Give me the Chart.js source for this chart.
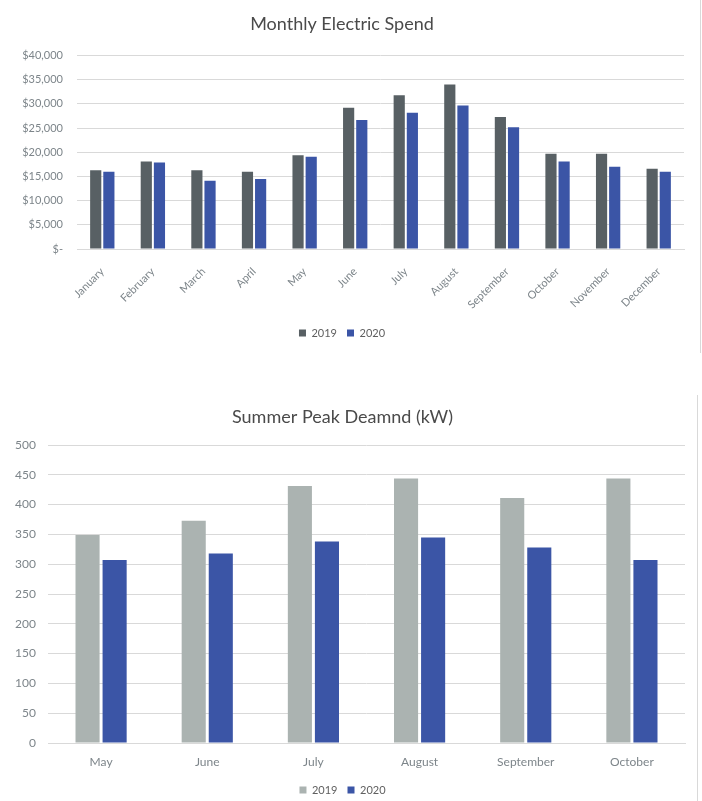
<!DOCTYPE html>
<html>
<head>
<meta charset="utf-8">
<title>Electric Spend and Peak Demand</title>
<script src="https://cdn.jsdelivr.net/npm/chart.js@4.4.1/dist/chart.umd.min.js"></script>
<style>
  html, body { margin: 0; padding: 0; background: #fff; overflow: hidden; }
  body { width: 702px; height: 801px; position: relative; }
  .box { position: absolute; left: 0; }
  #spend-box { top: 0; width: 700px; height: 355px; }
  #demand-box { top: 385px; width: 697px; height: 421px; }
  .edge { position: absolute; width: 1px; background: #d9d9d9; }
</style>
</head>
<body>
<div class="box" id="spend-box"><canvas id="spend-chart" width="700" height="355"></canvas></div>
<div class="box" id="demand-box"><canvas id="demand-chart" width="697" height="421"></canvas></div>
<div class="edge" style="left:700px; top:0; height:353px;"></div>
<div class="edge" style="left:697px; top:395px; height:406px;"></div>

<script>
// Monthly spend ($)
const months = ['January', 'February', 'March', 'April', 'May', 'June', 'July', 'August', 'September', 'October', 'November', 'December'];
const spend2019 = [16300, 18100, 16300, 16000, 19400, 29200, 31800, 34000, 27300, 19700, 19700, 16600];
const spend2020 = [16000, 17900, 14100, 14500, 19100, 26700, 28200, 29700, 25200, 18100, 17000, 16000];
const spendTicks = [0, 5000, 10000, 15000, 20000, 25000, 30000, 35000, 40000];

// Summer peak demand (kW)
const summerMonths = ['May', 'June', 'July', 'August', 'September', 'October'];
const demand2019 = [349, 373, 431, 444, 411, 444];
const demand2020 = [307, 318, 338, 345, 328, 307];
const demandTicks = [0, 50, 100, 150, 200, 250, 300, 350, 400, 450, 500];

const colors = {
  dark: '#586064',
  blue: '#3b55a6',
  light: '#abb3b1',
  grid: '#d9d9d9',
  title: '#4a4a4a',
  tick: '#7d858a',
  legend: '#5f5f5f'
};

Chart.defaults.font.family = "Lato, 'Open Sans', sans-serif";
Chart.defaults.animation = false;

function moneyLabel(value) {
  if (value === 0) return '$-';
  return '$' + value.toLocaleString('en-US');
}

// Monthly Electric Spend
new Chart(document.getElementById('spend-chart'), {
  type: 'bar',
  data: {
    labels: months,
    datasets: [
      { label: '2019', data: spend2019, backgroundColor: colors.dark },
      { label: '2020', data: spend2020, backgroundColor: colors.blue }
    ]
  },
  options: {
    responsive: false,
    categoryPercentage: 0.52,
    barPercentage: 0.85,
    layout: { padding: { left: 0, right: 16, top: 0, bottom: 6.5 } },
    plugins: {
      title: {
        display: true,
        text: 'Monthly Electric Spend',
        color: colors.title,
        font: { size: 18, weight: 'normal' },
        padding: { top: 13, bottom: 21 }
      },
      legend: {
        position: 'bottom',
        labels: {
          boxWidth: 7,
          boxHeight: 7,
          padding: 10,
          color: colors.legend,
          font: { size: 11 }
        }
      },
      tooltip: { enabled: false }
    },
    scales: {
      x: {
        grid: { display: false, drawTicks: false },
        border: { display: true, color: colors.grid },
        ticks: {
          color: colors.tick,
          font: { size: 11 },
          maxRotation: 45,
          minRotation: 45,
          padding: 16
        },
        afterFit: function(scale) { scale.height = 68.5; }
      },
      y: {
        min: 0,
        max: 40000,
        afterBuildTicks: function(scale) {
          scale.ticks = spendTicks.map(function(v) { return { value: v }; });
        },
        grid: { color: colors.grid, drawTicks: false },
        border: { display: false },
        ticks: {
          color: colors.tick,
          font: { size: 11 },
          padding: 14,
          callback: moneyLabel
        },
        afterFit: function(scale) { scale.width = 77; }
      }
    }
  }
});

// Summer Peak Deamnd (kW)
new Chart(document.getElementById('demand-chart'), {
  type: 'bar',
  data: {
    labels: summerMonths,
    datasets: [
      { label: '2019', data: demand2019, backgroundColor: colors.light },
      { label: '2020', data: demand2020, backgroundColor: colors.blue }
    ]
  },
  options: {
    responsive: false,
    categoryPercentage: 0.51,
    barPercentage: 0.89,
    layout: { padding: { left: 0, right: 12, top: 0, bottom: 0.5 } },
    plugins: {
      title: {
        display: true,
        text: 'Summer Peak Deamnd (kW)',
        color: colors.title,
        font: { size: 18, weight: 'normal' },
        padding: { top: 21, bottom: 17.4 }
      },
      legend: {
        position: 'bottom',
        labels: {
          boxWidth: 7,
          boxHeight: 7,
          padding: 10,
          color: colors.legend,
          font: { size: 11 }
        }
      },
      tooltip: { enabled: false }
    },
    scales: {
      x: {
        grid: { display: false, drawTicks: false },
        border: { display: true, color: colors.grid },
        ticks: {
          color: colors.tick,
          font: { size: 12 },
          maxRotation: 0,
          padding: 12
        },
        afterFit: function(scale) { scale.height = 31.5; }
      },
      y: {
        min: 0,
        max: 500,
        afterBuildTicks: function(scale) {
          scale.ticks = demandTicks.map(function(v) { return { value: v }; });
        },
        grid: { color: colors.grid, drawTicks: false },
        border: { display: false },
        ticks: {
          color: colors.tick,
          font: { size: 12 },
          padding: 12
        },
        afterFit: function(scale) { scale.width = 48; }
      }
    }
  }
});
</script>
</body>
</html>
